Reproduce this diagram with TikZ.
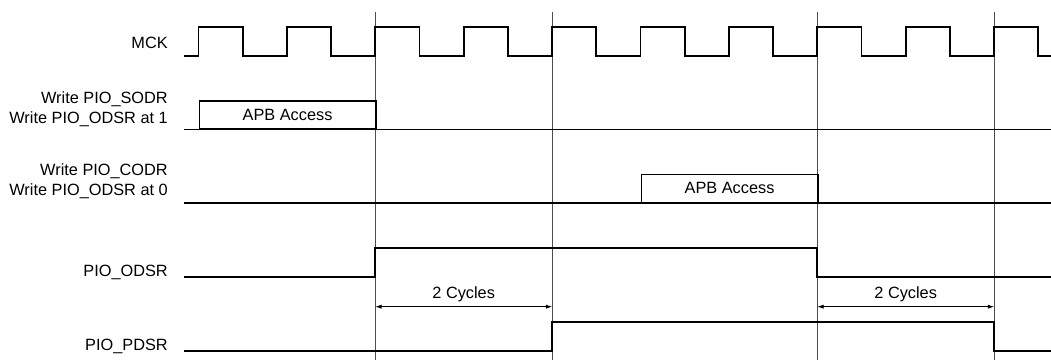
\documentclass[tikz,border=0pt]{standalone}
\usepackage{fontspec}
\setmainfont{Liberation Sans}
\usetikzlibrary{arrows.meta,positioning}

\begin{document}
\begin{tikzpicture}[x=0.025cm, y=-0.025cm, >={Latex[length=4.5pt,width=3pt]},
    every node/.style={font=\fontsize{11.6}{14.2}\selectfont},
    signame/.style={anchor=base east, align=right, inner sep=0pt},
    wave/.style={line width=1.2pt},
    bus/.style={line width=1.3pt},
    guide/.style={line width=0.5pt, black!70},
    accessbox/.style={draw, line width=0.9pt, inner sep=0pt, minimum height=0.695cm},
    span/.style={<->, line width=0.5pt}]
    \useasboundingbox (0,0) rectangle (1051,360);

    % rising edges of MCK
    \foreach \k in {0,...,9}
        \coordinate (r\k) at ({198.5+88.4*\k},0);

    % guide lines
    \foreach \k in {2,4,7,9}
        \draw [guide] (r\k |- 0,12) -- (r\k |- 0,360);

    % signal names
    \node [signame] (mck) at (168,48.3) {MCK};
    \node [signame] (sodr) at (168,123.3) {Write PIO\_SODR\\Write PIO\_ODSR at 1};
    \node [signame] (codr) at (168,195.7) {Write PIO\_CODR\\Write PIO\_ODSR at 0};
    \node [signame] (odsr) at (168,276.7) {PIO\_ODSR};
    \node [signame] (pdsr) at (168,350.7) {PIO\_PDSR};

    % clock
    \draw [wave] (184,56) foreach \k in {0,...,9} { -- ({198.5+88.4*\k},56) -- ++(0,-29.3) -- ++(44.2,0) -- ++(0,29.3) } -- (1051,56);

    % write accesses
    \draw [bus] (184,129.5) -- (1051,129.5);
    \node [accessbox, anchor=south west, minimum width=4.42cm] (acc1) at (r0 |- 0,129.5) {APB Access};
    \draw [bus] (184,203) -- (1051,203);
    \node [accessbox, anchor=south west, minimum width=4.42cm] (acc2) at (r5 |- 0,203) {APB Access};

    % output and pin levels
    \draw [wave] (184,276.7) -- (r2 |- 0,276.7) -- (r2 |- 0,247.7) -- (r7 |- 0,247.7) -- (r7 |- 0,276.7) -- (1051,276.7);
    \draw [wave] (184,350.7) -- (r4 |- 0,350.7) -- (r4 |- 0,321.7) -- (r9 |- 0,321.7) -- (r9 |- 0,350.7) -- (1051,350.7);

    \draw [span] (r2 |- 0,306.7) -- node[above=3pt, inner sep=0pt] (lat1) {2 Cycles} (r4 |- 0,306.7);
    \draw [span] (r7 |- 0,306.7) -- node[above=3pt, inner sep=0pt] (lat2) {2 Cycles} (r9 |- 0,306.7);
\end{tikzpicture}
\end{document}
